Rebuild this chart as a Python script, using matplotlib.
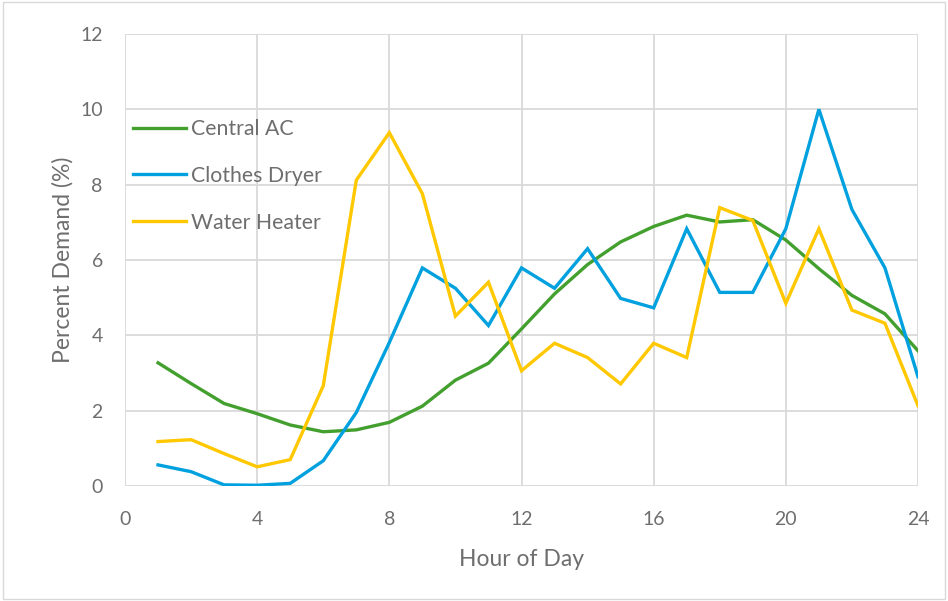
import numpy as np
import matplotlib.pyplot as plt
from matplotlib.patches import Rectangle

plt.rcParams['font.family'] = ['Lato', 'DejaVu Sans']

# 数据
hours = list(range(1, 25))
central_ac = [3.27, 2.72, 2.19, 1.92, 1.62, 1.44, 1.49, 1.69, 2.12, 2.81, 3.26, 4.17,
              5.10, 5.88, 6.48, 6.89, 7.19, 7.01, 7.07, 6.53, 5.77, 5.06, 4.57, 3.59]
clothes_dryer = [0.56, 0.38, 0.03, 0.02, 0.07, 0.67, 1.95, 3.81, 5.79, 5.25, 4.26, 5.79,
                 5.25, 6.30, 4.98, 4.73, 6.83, 5.14, 5.14, 6.83, 10.0, 7.34, 5.79, 2.90]
water_heater = [1.18, 1.23, 0.86, 0.51, 0.70, 2.66, 8.12, 9.38, 7.76, 4.51, 5.41, 3.06,
                3.79, 3.41, 2.71, 3.79, 3.41, 7.39, 7.05, 4.85, 6.83, 4.67, 4.32, 2.13]

series_names = ['Central AC', 'Clothes Dryer', 'Water Heater']
series_colors = ['#43a02e', '#00a1de', '#ffc800']

xticks = [0, 4, 8, 12, 16, 20, 24]
yticks = [0, 2, 4, 6, 8, 10, 12]

text_color = '#6e6e6e'
grid_color = '#d9d9d9'

fig = plt.figure(figsize=(9.48, 6.01), dpi=100)
ax = fig.add_axes([125 / 948, 1 - 486 / 601, (918 - 125) / 948, (486 - 34) / 601])

for vals, name, c in zip([central_ac, clothes_dryer, water_heater], series_names, series_colors):
    ax.plot(hours, vals, color=c, lw=2.4, label=name, solid_joinstyle='miter')

ax.set_xlim(0, 24)
ax.set_ylim(0, 12)
ax.set_xticks(xticks)
ax.set_yticks(yticks)
ax.grid(True, color=grid_color, lw=1.3)
ax.set_axisbelow(True)
for s in ax.spines.values():
    s.set_visible(False)
ax.tick_params(length=0, labelsize=14, colors=text_color)
ax.tick_params(axis='x', pad=18)
ax.tick_params(axis='y', pad=16)

ax.set_xlabel('Hour of Day', fontsize=16.5, color=text_color, labelpad=15)
ax.set_ylabel('Percent Demand (%)', fontsize=16.5, color=text_color, labelpad=5)

leg = ax.legend(loc='upper left', bbox_to_anchor=(-0.006, 0.84), frameon=False,
                fontsize=15.3, handlelength=2.5, handletextpad=0.25, labelspacing=1.26,
                borderaxespad=0.2)
for t in leg.get_texts():
    t.set_color(text_color)

# 图表外框
fig.patches.append(Rectangle((0.003, 0.003), 0.994, 0.994, transform=fig.transFigure,
                             fill=False, edgecolor=grid_color, lw=1))

fig.savefig('out.png', dpi=100)
